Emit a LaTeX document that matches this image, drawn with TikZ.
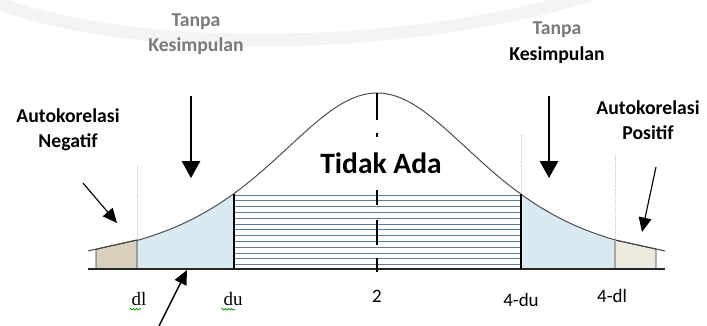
\documentclass[tikz,border=0pt]{standalone}
\usepackage{fontspec}
\setsansfont{Carlito}
\setmainfont{Liberation Serif}
\usetikzlibrary{arrows.meta,decorations.pathmorphing}

\definecolor{tailblue}{HTML}{D9EAF3}
\definecolor{hatchblue}{HTML}{5F7D99}
\definecolor{leftbeige}{HTML}{D8D0BC}
\definecolor{rightbeige}{HTML}{ECE9DE}
\definecolor{titlegray}{HTML}{7A7A7A}

\begin{document}
\begin{tikzpicture}[
        x=0.025cm, y=-0.025cm,
        font=\sffamily,
        declare function={bell(\t)=269-176/(1+((\t-377)/197)^2)^2;},
        title/.style={font=\sffamily\bfseries\fontsize{14}{17.5}\selectfont, align=center},
        axislabel/.style={font=\sffamily\fontsize{13.5}{16}\selectfont},
        seriflabel/.style={font=\rmfamily\fontsize{13.5}{16}\selectfont},
        bigarrow/.style={-{Triangle[length=6mm*0.7,width=6.5mm*0.7]}, line width=1.1pt},
        thinarrow/.style={-{Triangle[length=3.6mm,width=3.2mm]}, line width=0.8pt},
        guide/.style={densely dotted, gray!45, line width=0.4pt},
        hatch/.style={hatchblue, line width=0.6pt},
        wall/.style={line width=2pt},
        squiggle/.style={green!55!black, line width=0.5pt, decorate,
            decoration={snake, amplitude=0.6pt, segment length=2.2pt}}
    ]
    \useasboundingbox (0,0) rectangle (707,326);

    % faint watermark band
    \draw[gray!9, line width=9pt] (-5,2) .. controls (150,60) and (430,48) .. (600,-8);

    % tails under the curve
    \fill[tailblue] (137,269) -- plot[domain=137:233, samples=40] (\x,{bell(\x)}) -- (233,269) -- cycle;
    \fill[tailblue] (522,269) -- plot[domain=522:615, samples=40] (\x,{bell(\x)}) -- (615,269) -- cycle;

    % boxes at both ends
    \filldraw[fill=leftbeige, draw=black!80, line width=0.6pt] (96,269) -- (96,249.2) -- (137,240) -- (137,269);
    \filldraw[fill=rightbeige, draw=black!80, line width=0.6pt] (615,269) -- (615,240) -- (656,249) -- (656,269);
    \draw[black!75, line width=0.7pt] (88,251) -- (137,240);
    \draw[black!75, line width=0.7pt] (615,240) -- (665,251);

    % guides
    \draw[guide] (137,165) -- (137,240);
    \draw[guide] (521,135) -- (521,194);
    \draw[guide] (615,155) -- (615,240);

    % middle region
    \foreach \k in {0,...,12}
        \draw[hatch] (233,195+5.8*\k) -- (522,195+5.8*\k);

    % bell curve
    \draw[black!70, line width=0.7pt] plot[domain=137:615, samples=120] (\x,{bell(\x)});

    % baseline
    \draw[black!85, line width=0.8pt] (88,269) -- (665,269);

    % du, 4-du and centre marks
    \draw[wall] (234,194) -- (234,269);
    \draw[wall] (521,194) -- (521,269);
    \foreach \a/\b in {93/120, 133/137, 190/205, 220/245, 258/272}
        \draw[wall] (377,\a) -- (377,\b);

    % labels
    \node[title, text=titlegray] (tanpaL) at (196,34) {Tanpa\\Kesimpulan};
    \node[title, text=titlegray] (tanpaR) at (557,30) {Tanpa};
    \node[title] (kesR) at (557,55) {Kesimpulan};
    \node[title] (neg) at (68,130) {Autokorelasi\\Negatif};
    \node[title] (pos) at (648,120) {Autokorelasi\\Positif};
    \node[font=\sffamily\bfseries\fontsize{21}{24}\selectfont] (tidak) at (381,163) {Tidak Ada};

    \node[seriflabel] (dl) at (139,299) {dl};
    \node[seriflabel] (du) at (233,299) {du};
    \node[axislabel] (two) at (377,296) {2};
    \node[axislabel] (fdu) at (521,300) {4-du};
    \node[axislabel] (fdl) at (612,296) {4-dl};
    \draw[squiggle] ([yshift=-1pt]dl.south west) ++(2pt,2pt) -- ++(8pt,0);
    \draw[squiggle] ([yshift=-1pt]du.south west) ++(2pt,2pt) -- ++(10pt,0);

    % arrows
    \coordinate (downLs) at (191,96);
    \coordinate (downLe) at (191,178);
    \coordinate (downRs) at (549,96);
    \coordinate (downRe) at (549,178);
    \coordinate (negs) at (83,183);
    \coordinate (nege) at (117,223);
    \coordinate (poss) at (656,167);
    \coordinate (pose) at (642,232);
    \coordinate (ups) at (157,330);
    \coordinate (upe) at (187,270);

    \draw[bigarrow] (downLs) -- (downLe);
    \draw[bigarrow] (downRs) -- (downRe);
    \draw[thinarrow] (negs) -- (nege);
    \draw[thinarrow] (poss) -- (pose);
    \draw[thinarrow, line width=1.1pt] (ups) -- (upe);

\end{tikzpicture}
\end{document}
